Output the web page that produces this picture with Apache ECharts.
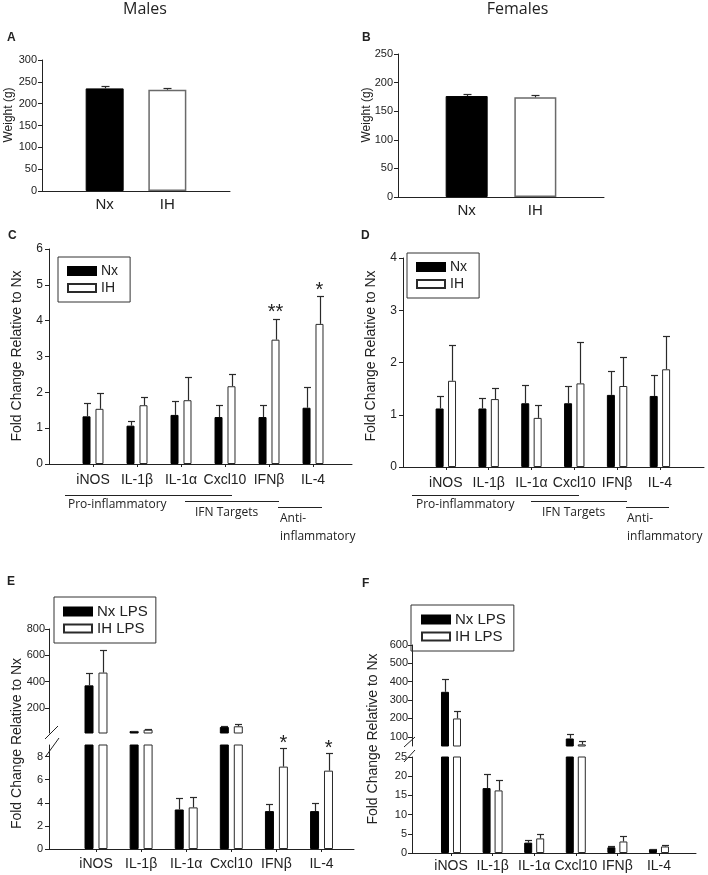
<!DOCTYPE html>
<html>
<head>
<meta charset="utf-8">
<script src="https://cdn.jsdelivr.net/npm/echarts@6/dist/echarts.min.js"></script>
<style>
html,body{margin:0;padding:0;background:#fff;}
#chart{width:708px;height:875px;}
</style>
</head>
<body>
<div id="chart"></div>
<script>
// ---------------- DATA ----------------
const weightGroups = ['Nx', 'IH'];
const maleWeight = [235, 232];
const maleWeightErr = [5, 5];
const femaleWeight = [176.5, 174.3];
const femaleWeightErr = [3, 3.5];
const weightTicksMale = [0, 50, 100, 150, 200, 250, 300];
const weightTicksFemale = [0, 50, 100, 150, 200, 250];

const genes = ['iNOS', 'IL-1β', 'IL-1α', 'Cxcl10', 'IFNβ', 'IL-4'];

const maleNx = [1.33, 1.07, 1.37, 1.31, 1.31, 1.57];
const maleNxErr = [0.37, 0.14, 0.38, 0.35, 0.33, 0.57];
const maleIH = [1.54, 1.64, 1.78, 2.17, 3.47, 3.91];
const maleIHErr = [0.44, 0.23, 0.64, 0.34, 0.58, 0.77];
const maleStars = ['', '', '', '', '**', '*'];
const foldTicksMale = [0, 1, 2, 3, 4, 5, 6];

const femaleNx = [1.12, 1.12, 1.22, 1.22, 1.38, 1.36];
const femaleNxErr = [0.24, 0.21, 0.34, 0.33, 0.45, 0.41];
const femaleIH = [1.65, 1.30, 0.94, 1.60, 1.55, 1.87];
const femaleIHErr = [0.69, 0.22, 0.25, 0.79, 0.55, 0.64];
const foldTicksFemale = [0, 1, 2, 3, 4];

const maleNxLPS = [372, 25, 3.42, 56, 3.28, 3.28];
const maleNxLPSErr = [94, 3, 0.96, 10, 0.6, 0.66];
const maleIHLPS = [469, 35, 3.6, 61, 7.13, 6.78];
const maleIHLPSErr = [169, 7, 0.86, 20, 1.59, 1.51];
const maleLPSStars = ['', '', '', '', '*', '*'];
const maleLPSUpperTicks = [200, 400, 600, 800];
const maleLPSLowerTicks = [0, 2, 4, 6, 8];

const femaleNxLPS = [345, 16.9, 2.7, 91, 1.5, 1.0];
const femaleNxLPSErr = [69, 3.6, 0.6, 27, 0.3, 0.1];
const femaleIHLPS = [200, 16.3, 3.8, 59, 3.0, 1.7];
const femaleIHLPSErr = [40, 2.7, 1.2, 19, 1.3, 0.4];
const femaleLPSUpperTicks = [100, 200, 300, 400, 500, 600];
const femaleLPSLowerTicks = [0, 5, 10, 15, 20, 25];

// ---------------- STYLE / LAYOUT ----------------
const FONT = 'Liberation Sans, Arial, sans-serif';
const FONT2 = 'Open Sans, sans-serif';
const INK = '#222';
const NX_STYLE = { color: '#000', borderColor: '#000', borderWidth: 1 };
const IH_STYLE = { color: '#fff', borderColor: '#2a2a2a', borderWidth: 1 };

const chart = echarts.init(document.getElementById('chart'), null, { renderer: 'canvas' });

const grids = [
  { left: 42, top: 60, width: 188, height: 131 },    // 0 A
  { left: 398, top: 54, width: 206, height: 143 },   // 1 B
  { left: 49, top: 249, width: 303, height: 215 },   // 2 C
  { left: 403, top: 258, width: 301, height: 209 },  // 3 D
  { left: 49, top: 629, width: 305, height: 104 },   // 4 E upper
  { left: 49, top: 745, width: 305, height: 104 },   // 5 E lower
  { left: 412, top: 645, width: 284, height: 101 },  // 6 F upper
  { left: 412, top: 757, width: 284, height: 96 }    // 7 F lower
];

function xAx(grid, min, max, labels, opt) {
  const pos = labels.map((_, i) => i + 1);
  return {
    type: 'value', gridIndex: grid, min, max, show: opt.show !== false,
    axisLine: { show: true, onZero: false, lineStyle: { color: INK, width: 1 } },
    axisTick: { show: !!opt.ticks, length: 3, customValues: pos, lineStyle: { color: INK } },
    axisLabel: {
      customValues: pos, formatter: v => labels[Math.round(v) - 1] || '',
      fontSize: opt.fontSize || 14, color: INK, fontFamily: FONT, margin: opt.margin || 8
    },
    splitLine: { show: false }
  };
}
function yAx(grid, min, max, ticks, fontSize, margin) {
  return {
    type: 'value', gridIndex: grid, min, max,
    axisLine: { show: true, onZero: false, lineStyle: { color: INK, width: 1 } },
    axisTick: { show: true, length: 4, customValues: ticks, lineStyle: { color: INK } },
    axisLabel: { customValues: ticks, fontSize, color: INK, fontFamily: FONT, margin: margin },
    splitLine: { show: false }
  };
}

const xAxes = [
  xAx(0, 0, 3, weightGroups, { fontSize: 15, margin: 6 }),
  xAx(1, 0, 3, weightGroups, { fontSize: 15, margin: 6 }),
  xAx(2, 0, 6.886, genes, { ticks: true, margin: 9 }),
  xAx(3, 0, 7.03, genes, { ticks: true, margin: 9 }),
  xAx(4, -0.042, 6.72, genes, { show: false }),
  xAx(5, -0.042, 6.72, genes, { ticks: true, margin: 8 }),
  xAx(6, 0.0625, 6.89, genes, { show: false }),
  xAx(7, 0.0625, 6.89, genes, { ticks: true, margin: 6 })
];
const yAxes = [
  yAx(0, 0, 300, weightTicksMale, 11, 5),
  yAx(1, 0, 250, weightTicksFemale, 11, 5),
  yAx(2, 0, 6, foldTicksMale, 12, 6),
  yAx(3, 0, 4, foldTicksFemale, 12, 6),
  yAx(4, 10, 800, maleLPSUpperTicks, 11, 4),
  yAx(5, 0, 9, maleLPSLowerTicks, 11, 6),
  yAx(6, 50, 600, femaleLPSUpperTicks, 11, 4),
  yAx(7, 0, 25, femaleLPSLowerTicks, 11, 5)
];

function weightBar(grid, vals, barWidth) {
  return {
    type: 'bar', name: 'weight' + grid, xAxisIndex: grid, yAxisIndex: grid, barWidth, silent: true,
    data: vals.map((v, i) => ({
      value: [i + 1, v],
      itemStyle: i === 0 ? NX_STYLE : { color: '#fff', borderColor: '#6a6a6a', borderWidth: 1.5 }
    }))
  };
}
function barPair(grid, names, nx, ih, barWidth, barGap) {
  return [
    { type: 'bar', name: names[0], xAxisIndex: grid, yAxisIndex: grid, barWidth, barGap, silent: true,
      itemStyle: NX_STYLE, data: nx.map((v, i) => [i + 1, v]) },
    { type: 'bar', name: names[1], xAxisIndex: grid, yAxisIndex: grid, barWidth, barGap, silent: true,
      itemStyle: IH_STYLE, data: ih.map((v, i) => [i + 1, v]) }
  ];
}
function errorSeries(grid, groups, offset, capHalf, lo, hi) {
  const data = [];
  groups.forEach(g => g.vals.forEach((v, i) => {
    const e = g.errs[i];
    if (v >= lo && v + e <= hi) data.push([i + 1, v, v + e, g.side]);
  }));
  return {
    type: 'custom', name: 'err' + grid, xAxisIndex: grid, yAxisIndex: grid, data, silent: true, z: 5,
    encode: { x: 0, y: [1, 2] },
    renderItem(params, api) {
      const base = api.coord([api.value(0), api.value(1)]);
      const top = api.coord([api.value(0), api.value(2)]);
      const cx = Math.round(base[0] + api.value(3) * offset) + 0.5;
      const ty = Math.round(top[1]) + 0.5;
      const st = { stroke: '#2a2a2a', lineWidth: 1.2 };
      return { type: 'group', children: [
        { type: 'line', shape: { x1: cx, y1: base[1], x2: cx, y2: ty }, style: st },
        { type: 'line', shape: { x1: cx - capHalf, y1: ty, x2: cx + capHalf, y2: ty }, style: st }
      ] };
    }
  };
}
function starSeries(grid, vals, errs, stars, offset, fontSize, gap) {
  const data = [];
  stars.forEach((s, i) => { if (s) data.push([i + 1, vals[i] + errs[i], i]); });
  return {
    type: 'custom', name: 'star' + grid, xAxisIndex: grid, yAxisIndex: grid, data, silent: true, z: 6,
    encode: { x: 0, y: 1 },
    renderItem(params, api) {
      const p = api.coord([api.value(0), api.value(1)]);
      return { type: 'text', x: p[0] + offset, y: p[1] - gap,
        style: { text: stars[api.value(2)], fontSize, fontFamily: FONT, fill: INK,
                 align: 'center', verticalAlign: 'middle', textAlign: 'center', textVerticalAlign: 'middle' } };
    }
  };
}

const series = [
  weightBar(0, maleWeight, 38),
  errorSeries(0, [{ vals: maleWeight, errs: maleWeightErr, side: 0 }], 0, 4, -Infinity, Infinity),
  weightBar(1, femaleWeight, 42),
  errorSeries(1, [{ vals: femaleWeight, errs: femaleWeightErr, side: 0 }], 0, 4, -Infinity, Infinity),

  ...barPair(2, ['Nx', 'IH'], maleNx, maleIH, 8, '62%'),
  errorSeries(2, [{ vals: maleNx, errs: maleNxErr, side: -1 }, { vals: maleIH, errs: maleIHErr, side: 1 }], 6.5, 3.5, -Infinity, Infinity),
  starSeries(2, maleIH, maleIHErr, maleStars, 6.5, 20, 6),

  ...barPair(3, ['Nx', 'IH'], femaleNx, femaleIH, 8, '55%'),
  errorSeries(3, [{ vals: femaleNx, errs: femaleNxErr, side: -1 }, { vals: femaleIH, errs: femaleIHErr, side: 1 }], 6.2, 3.5, -Infinity, Infinity),

  ...barPair(4, ['Nx LPS', 'IH LPS'], maleNxLPS, maleIHLPS, 9, '55%'),
  errorSeries(4, [{ vals: maleNxLPS, errs: maleNxLPSErr, side: -1 }, { vals: maleIHLPS, errs: maleIHLPSErr, side: 1 }], 7, 3.5, 10, Infinity),
  ...barPair(5, ['Nx LPS', 'IH LPS'], maleNxLPS, maleIHLPS, 9, '55%'),
  errorSeries(5, [{ vals: maleNxLPS, errs: maleNxLPSErr, side: -1 }, { vals: maleIHLPS, errs: maleIHLPSErr, side: 1 }], 7, 3.5, -Infinity, 9),
  starSeries(5, maleIHLPS, maleIHLPSErr, maleLPSStars, 7, 20, 5),

  ...barPair(6, ['Nx LPS', 'IH LPS'], femaleNxLPS, femaleIHLPS, 8, '50%'),
  errorSeries(6, [{ vals: femaleNxLPS, errs: femaleNxLPSErr, side: -1 }, { vals: femaleIHLPS, errs: femaleIHLPSErr, side: 1 }], 6, 3.5, 50, Infinity),
  ...barPair(7, ['Nx LPS', 'IH LPS'], femaleNxLPS, femaleIHLPS, 8, '50%'),
  errorSeries(7, [{ vals: femaleNxLPS, errs: femaleNxLPSErr, side: -1 }, { vals: femaleIHLPS, errs: femaleIHLPSErr, side: 1 }], 6, 3.5, -Infinity, 25)
];

function legendCfg(names, left, top, fontSize, padding, gap) {
  return {
    data: names, orient: 'vertical', left, top, padding, itemWidth: 28, itemHeight: 8, itemGap: gap,
    borderColor: '#333', borderWidth: 1, selectedMode: false, icon: 'rect',
    textStyle: { fontSize, color: INK, fontFamily: FONT }
  };
}

function txt(text, x, y, size, opts) {
  opts = opts || {};
  return { type: 'text', x, y, rotation: opts.rot || 0, silent: true,
    style: { text, fontSize: size, fontFamily: opts.family || FONT, fontWeight: opts.weight || 'normal', fill: INK,
             align: opts.align || 'left', verticalAlign: 'middle',
             textAlign: opts.align || 'left', textVerticalAlign: 'middle' } };
}
function ln(x1, y1, x2, y2, w) {
  return { type: 'line', silent: true, shape: { x1, y1, x2, y2 }, style: { stroke: INK, lineWidth: w || 1 } };
}
const R = Math.PI / 2;
const graphic = [
  txt('Males', 145, 9.5, 16, { family: FONT2, align: 'center' }),
  txt('Females', 517.5, 9.5, 16, { family: FONT2, align: 'center' }),
  txt('A', 7, 38, 12, { weight: 'bold' }),
  txt('B', 362, 38, 12, { weight: 'bold' }),
  txt('C', 8, 236, 12, { weight: 'bold' }),
  txt('D', 361, 236, 12, { weight: 'bold' }),
  txt('E', 7, 582, 12, { weight: 'bold' }),
  txt('F', 362, 583.5, 12, { weight: 'bold' }),
  txt('Weight (g)', 9, 115, 12, { rot: R, align: 'center' }),
  txt('Weight (g)', 366.5, 115, 12, { rot: R, align: 'center' }),
  txt('Fold Change Relative to Nx', 17.5, 356, 14, { rot: R, align: 'center' }),
  txt('Fold Change Relative to Nx', 371.5, 356, 14, { rot: R, align: 'center' }),
  txt('Fold Change Relative to Nx', 17.5, 743.5, 14, { rot: R, align: 'center' }),
  txt('Fold Change Relative to Nx', 373, 739, 14, { rot: R, align: 'center' }),
  // C group brackets
  ln(65, 495.5, 232, 495.5), ln(185, 501.5, 279, 501.5), ln(278, 507.5, 322, 507.5),
  txt('Pro-inflammatory', 68, 505, 12, { family: FONT2 }),
  txt('IFN Targets', 195, 513, 12, { family: FONT2 }),
  txt('Anti-', 280, 519, 12, { family: FONT2 }),
  txt('inflammatory', 280, 537, 12, { family: FONT2 }),
  // D group brackets
  ln(412, 495.5, 579, 495.5), ln(531, 501.5, 627, 501.5), ln(626, 507.5, 669, 507.5),
  txt('Pro-inflammatory', 416, 505, 12, { family: FONT2 }),
  txt('IFN Targets', 542, 513, 12, { family: FONT2 }),
  txt('Anti-', 627, 519, 12, { family: FONT2 }),
  txt('inflammatory', 627, 537, 12, { family: FONT2 }),
  // axis break marks
  ln(45, 739, 58, 726), ln(46, 756, 59, 738),
  ln(404, 747, 415, 737), ln(404, 762, 415, 750)
];

chart.setOption({
  animation: false,
  backgroundColor: '#fff',
  grid: grids,
  xAxis: xAxes,
  yAxis: yAxes,
  legend: [
    legendCfg(['Nx', 'IH'], 58, 257, 14, [7, 12, 7, 9], 3),
    legendCfg(['Nx', 'IH'], 407, 253, 14, [7, 12, 7, 9], 3),
    legendCfg(['Nx LPS', 'IH LPS'], 54, 597, 15, [7, 8, 7, 9], 2),
    legendCfg(['Nx LPS', 'IH LPS'], 411, 605, 15, [7, 8, 7, 10], 2)
  ],
  series,
  graphic
});
</script>
</body>
</html>
